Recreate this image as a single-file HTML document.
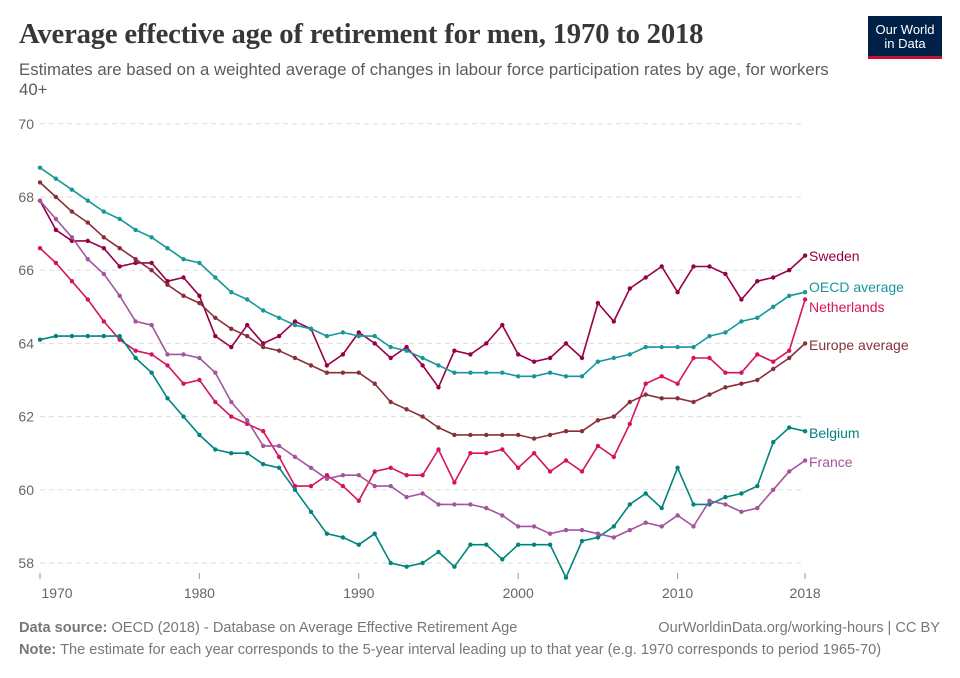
<!DOCTYPE html>
<html><head><meta charset="utf-8"><style>
body{margin:0;background:#fff;font-family:"Liberation Sans",sans-serif;}
#w{position:relative;width:960px;height:678px;overflow:hidden}
h1{position:absolute;left:19px;top:18px;margin:0;font-family:"Liberation Serif",serif;font-size:28.7px;font-weight:bold;color:#373737;letter-spacing:-0.2px;white-space:nowrap}
.sub{position:absolute;left:19px;top:60px;width:815px;font-size:16.8px;line-height:20px;color:#5b5b5b}
.logo{position:absolute;left:868px;top:16px;width:74px;height:43px;background:#002147;border-bottom:3px solid #c8102e;color:#fff;font-size:13px;line-height:14px;text-align:center;padding-top:7px;box-sizing:border-box}
.foot{position:absolute;left:19px;font-size:14.6px;color:#777;white-space:nowrap}
</style></head><body><div id="w">
<h1>Average effective age of retirement for men, 1970 to 2018</h1>
<div class="sub">Estimates are based on a weighted average of changes in labour force participation rates by age, for workers 40+</div>
<div class="logo">Our World<br>in Data</div>
<svg id="c" width="960" height="678" style="position:absolute;left:0;top:0"></svg>
<div class="foot" style="top:620px"><b>Data source:</b> OECD (2018) - Database on Average Effective Retirement Age</div>
<div class="foot" style="top:620px;left:auto;right:20px">OurWorldinData.org/working-hours | CC BY</div>
<div class="foot" style="top:642px"><b>Note:</b> The estimate for each year corresponds to the 5-year interval leading up to that year (e.g. 1970 corresponds to period 1965-70)</div>
</div>
<script>
var S=[
["Sweden","#970046",[67.9,67.1,66.8,66.8,66.6,66.1,66.2,66.2,65.7,65.8,65.3,64.2,63.9,64.5,64.0,64.2,64.6,64.4,63.4,63.7,64.3,64.0,63.6,63.9,63.4,62.8,63.8,63.7,64.0,64.5,63.7,63.5,63.6,64.0,63.6,65.1,64.6,65.5,65.8,66.1,65.4,66.1,66.1,65.9,65.2,65.7,65.8,66.0,66.4],256],
["OECD average","#18979a",[68.8,68.5,68.2,67.9,67.6,67.4,67.1,66.9,66.6,66.3,66.2,65.8,65.4,65.2,64.9,64.7,64.5,64.4,64.2,64.3,64.2,64.2,63.9,63.8,63.6,63.4,63.2,63.2,63.2,63.2,63.1,63.1,63.2,63.1,63.1,63.5,63.6,63.7,63.9,63.9,63.9,63.9,64.2,64.3,64.6,64.7,65.0,65.3,65.4],287],
["Netherlands","#d6135f",[66.6,66.2,65.7,65.2,64.6,64.1,63.8,63.7,63.4,62.9,63.0,62.4,62.0,61.8,61.6,60.9,60.1,60.1,60.4,60.1,59.7,60.5,60.6,60.4,60.4,61.1,60.2,61.0,61.0,61.1,60.6,61.0,60.5,60.8,60.5,61.2,60.9,61.8,62.9,63.1,62.9,63.6,63.6,63.2,63.2,63.7,63.5,63.8,65.2],307],
["Europe average","#883039",[68.4,68.0,67.6,67.3,66.9,66.6,66.3,66.0,65.6,65.3,65.1,64.7,64.4,64.2,63.9,63.8,63.6,63.4,63.2,63.2,63.2,62.9,62.4,62.2,62.0,61.7,61.5,61.5,61.5,61.5,61.5,61.4,61.5,61.6,61.6,61.9,62.0,62.4,62.6,62.5,62.5,62.4,62.6,62.8,62.9,63.0,63.3,63.6,64.0],345],
["Belgium","#00847e",[64.1,64.2,64.2,64.2,64.2,64.2,63.6,63.2,62.5,62.0,61.5,61.1,61.0,61.0,60.7,60.6,60.0,59.4,58.8,58.7,58.5,58.8,58.0,57.9,58.0,58.3,57.9,58.5,58.5,58.1,58.5,58.5,58.5,57.6,58.6,58.7,59.0,59.6,59.9,59.5,60.6,59.6,59.6,59.8,59.9,60.1,61.3,61.7,61.6],433],
["France","#a2559c",[67.9,67.4,66.9,66.3,65.9,65.3,64.6,64.5,63.7,63.7,63.6,63.2,62.4,61.9,61.2,61.2,60.9,60.6,60.3,60.4,60.4,60.1,60.1,59.8,59.9,59.6,59.6,59.6,59.5,59.3,59.0,59.0,58.8,58.9,58.9,58.8,58.7,58.9,59.1,59.0,59.3,59.0,59.7,59.6,59.4,59.5,60.0,60.5,60.8],462]];
function X(i){return 40+i*15.94;}function Y(v){return 563-(v-58)*36.6;}
var h='';
for(var v=58;v<=70;v+=2){h+='<line x1="40" x2="805" y1="'+Y(v)+'" y2="'+Y(v)+'" stroke="#ddd" stroke-dasharray="5,4"/>';
h+='<text x="34" y="'+(Y(v)+5)+'" text-anchor="end" font-size="14" fill="#666" font-family="Liberation Sans">'+v+'</text>';}
[[0,1970],[10,1980],[20,1990],[30,2000],[40,2010],[48,2018]].forEach(function(t){var x=X(t[0]);
h+='<line x1="'+x+'" x2="'+x+'" y1="573" y2="579" stroke="#999"/>';
h+='<text x="'+(t[0]==0?x+17:x)+'" y="598" text-anchor="middle" font-size="14" fill="#666" font-family="Liberation Sans">'+t[1]+'</text>';});
S.forEach(function(s){var p=s[2].map(function(v,i){return X(i).toFixed(1)+','+Y(v).toFixed(1);});
h+='<polyline points="'+p.join(' ')+'" fill="none" stroke="'+s[1]+'" stroke-width="1.6"/>';
p.forEach(function(q){var a=q.split(',');h+='<circle cx="'+a[0]+'" cy="'+a[1]+'" r="2.2" fill="'+s[1]+'"/>';});
h+='<text x="809" y="'+(s[3]+5)+'" font-size="14" fill="'+s[1]+'" font-family="Liberation Sans">'+s[0]+'</text>';});
document.getElementById('c').innerHTML=h;
</script>
</body></html>
